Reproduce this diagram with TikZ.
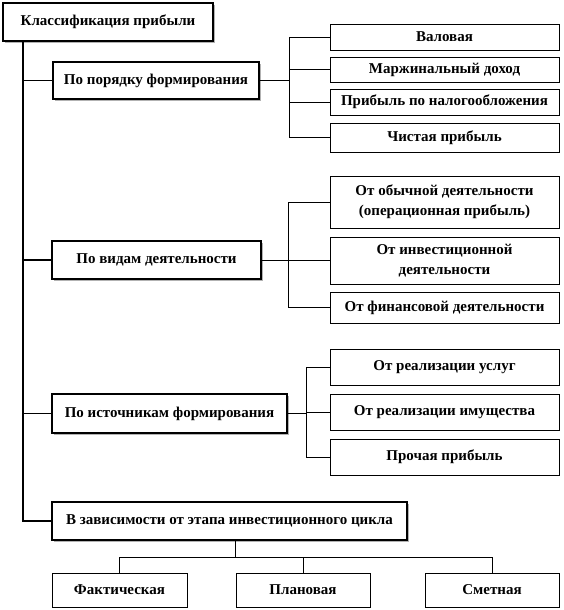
\documentclass[tikz,border=0pt]{standalone}
\usepackage{fontspec}
\setmainfont{Liberation Serif}
\usetikzlibrary{shadows}
\begin{document}
\begin{tikzpicture}[x=1pt,y=-1pt]
\tikzset{
  base/.style={draw, fill=white, align=center, inner sep=0pt,
    font=\bfseries\fontsize{15}{20}\selectfont},
  mainbox/.style={base, line width=1.6pt,
    drop shadow={shadow xshift=1.8pt, shadow yshift=-1.8pt, fill=gray!60, opacity=1}},
  subbox/.style={base, line width=0.9pt},
  trunk/.style={line width=1.8pt},
  link/.style={line width=0.9pt}
}
\useasboundingbox (0,0) rectangle (563,610);
% main column
\node[mainbox, minimum width=210pt, minimum height=38pt] (root) at (108,22) {Классификация прибыли};
\node[mainbox, minimum width=206pt, minimum height=37pt] (A) at (156,80.5) {По порядку формирования};
\node[mainbox, minimum width=209pt, minimum height=38pt] (B) at (156.5,260) {По видам деятельности};
\node[mainbox, minimum width=235pt, minimum height=39pt] (C) at (169.5,413.5) {По источникам формирования};
\node[mainbox, minimum width=355pt, minimum height=38pt] (D) at (229.5,521) {В зависимости от этапа инвестиционного цикла};
% group 1
\node[subbox, minimum width=229pt, minimum height=26pt] (v1) at (444.5,37) {Валовая};
\node[subbox, minimum width=229pt, minimum height=25pt] (v2) at (444.5,69.5) {Маржинальный доход};
\node[subbox, minimum width=229pt, minimum height=26pt] (v3) at (444.5,102) {Прибыль по налогообложения};
\node[subbox, minimum width=229pt, minimum height=29pt] (v4) at (444.5,137.5) {Чистая прибыль};
% group 2
\node[subbox, minimum width=229pt, minimum height=52pt] (w1) at (444.5,202) {От обычной деятельности\\(операционная прибыль)};
\node[subbox, minimum width=229pt, minimum height=47pt] (w2) at (444.5,260.5) {От инвестиционной\\деятельности};
\node[subbox, minimum width=229pt, minimum height=31pt] (w3) at (444.5,307.5) {От финансовой деятельности};
% group 3
\node[subbox, minimum width=229pt, minimum height=36pt] (s1) at (444.5,367) {От реализации услуг};
\node[subbox, minimum width=229pt, minimum height=36pt] (s2) at (444.5,412) {От реализации имущества};
\node[subbox, minimum width=229pt, minimum height=36pt] (s3) at (444.5,457) {Прочая прибыль};
% bottom group
\node[subbox, minimum width=135pt, minimum height=34pt] (f1) at (119.5,590) {Фактическая};
\node[subbox, minimum width=134pt, minimum height=34pt] (f2) at (303,590) {Плановая};
\node[subbox, minimum width=134pt, minimum height=34pt] (f3) at (492,590) {Сметная};
% helper coordinates
\coordinate (tr) at (23,0);
\coordinate (g1) at (289,0);
\coordinate (g2) at (288,0);
\coordinate (g3) at (306,0);
\coordinate (hb) at (0,557);
% trunk
\draw[trunk] (root.south -| tr) -- (tr |- D.west) -- (D.west);
\draw[trunk] (tr |- A.west) -- (A.west);
\draw[trunk] (tr |- B.west) -- (B.west);
\draw[trunk] (tr |- C.west) -- (C.west);
% bracket 1
\draw[link] (A.east) -- (g1 |- A.east);
\draw[link] (g1 |- v1.west) -- (g1 |- v4.west);
\foreach \n in {v1,v2,v3,v4} \draw[link] (g1 |- \n.west) -- (\n.west);
% bracket 2
\draw[link] (B.east) -- (g2 |- B.east);
\draw[link] (g2 |- w1.west) -- (g2 |- w3.west);
\foreach \n in {w1,w2,w3} \draw[link] (g2 |- \n.west) -- (\n.west);
% bracket 3
\draw[link] (C.east) -- (g3 |- C.east);
\draw[link] (g3 |- s1.west) -- (g3 |- s3.west);
\foreach \n in {s1,s2,s3} \draw[link] (g3 |- \n.west) -- (\n.west);
% bottom tree
\draw[link] (D.south -| f2.west) -- (hb -| f2.west);
\draw[link] (hb -| f1.north) -- (hb -| f3.north);
\foreach \n in {f1,f2,f3} \draw[link] (hb -| \n.north) -- (\n.north);
\end{tikzpicture}
\end{document}
